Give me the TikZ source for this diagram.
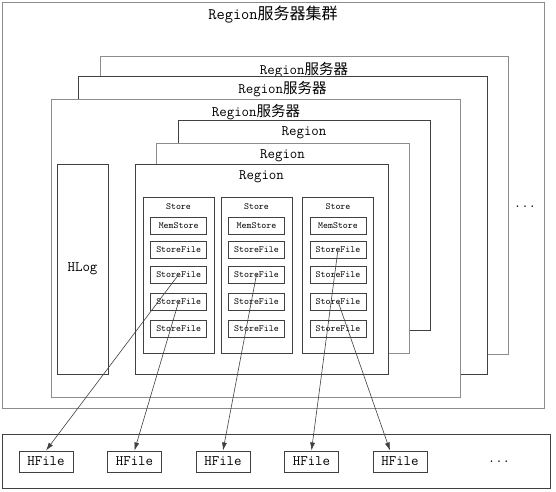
\documentclass[tikz,border=0pt]{standalone}
\usepackage{fontspec}
\newfontfamily\cjk{Noto Sans CJK SC}
\usetikzlibrary{arrows.meta}
\definecolor{grisclaro}{HTML}{8C8C8C}
\definecolor{grisosc}{HTML}{404040}
\tikzset{
  caja/.style={draw=grisosc, line width=1pt, fill=white},
  cajaclara/.style={draw=grisclaro, line width=1pt, fill=white},
  etiq/.style={font=\ttfamily\fontsize{14.5}{16}\selectfont, inner sep=0pt},
  chica/.style={font=\ttfamily\fontsize{9.5}{11}\selectfont, inner sep=0pt},
  archivo/.style={caja, chica, minimum width=56pt, minimum height=17pt},
  hfile/.style={caja, etiq, minimum width=54pt, minimum height=21pt},
  flecha/.style={draw=grisosc, line width=0.6pt, -{Latex[length=8pt,width=5pt]}}
}
\begin{document}
\begin{tikzpicture}[x=1pt,y=-1pt]
    \useasboundingbox (0,0) rectangle (556,491);

    % Cluster
    \draw[cajaclara] (2,2) rectangle (544,408);
    \node[etiq, font=\ttfamily\fontsize{16}{18}\selectfont] (titulo) at (273,15) {Region{\cjk 服务器集群}};
    \node[etiq] (puntos1) at (525,207) {...};

    % Servidores
    \draw[cajaclara] (100,56) rectangle (508,354);
    \node[etiq] (srv3) at (304,70) {Region{\cjk 服务器}};
    \draw[caja] (78,76) rectangle (487,374);
    \node[etiq] (srv2) at (282.5,89) {Region{\cjk 服务器}};
    \draw[cajaclara] (51.5,99) rectangle (460,397);
    \node[etiq] (srv1) at (256,112) {Region{\cjk 服务器}};

    % HLog
    \draw[caja] (57,164) rectangle (108.5,374);
    \node[etiq] (hlog) at (82.5,269) {HLog};

    % Regiones
    \draw[caja] (178,120) rectangle (430,330);
    \node[etiq] (reg3) at (304,133) {Region};
    \draw[cajaclara] (156,143) rectangle (409,353);
    \node[etiq] (reg2) at (282.5,156) {Region};
    \draw[caja] (135,164) rectangle (388,374);
    \node[etiq] (reg1) at (261.5,177) {Region};

    % Stores
    \draw[caja] (143,197) rectangle (214,353);
    \draw[caja] (221,197) rectangle (292,353);
    \draw[caja] (302,197) rectangle (373.5,353);
    \node[chica] (st1) at (178.5,206.5) {Store};
    \node[chica] (st2) at (256.5,206.5) {Store};
    \node[chica] (st3) at (338,206.5) {Store};

    \node[archivo] (ms1) at (178.7,225.5) {MemStore};
    \node[archivo] (sf11) at (178.7,249.5) {StoreFile};
    \node[archivo] (sf12) at (178.7,274.5) {StoreFile};
    \node[archivo] (sf13) at (178.7,301.5) {StoreFile};
    \node[archivo] (sf14) at (178.7,328.5) {StoreFile};

    \node[archivo] (ms2) at (256.5,225.5) {MemStore};
    \node[archivo] (sf21) at (256.5,249.5) {StoreFile};
    \node[archivo] (sf22) at (256.5,274.5) {StoreFile};
    \node[archivo] (sf23) at (256.5,301.5) {StoreFile};
    \node[archivo] (sf24) at (256.5,328.5) {StoreFile};

    \node[archivo] (ms3) at (338,225.5) {MemStore};
    \node[archivo] (sf31) at (338,249.5) {StoreFile};
    \node[archivo] (sf32) at (338,274.5) {StoreFile};
    \node[archivo] (sf33) at (338,301.5) {StoreFile};
    \node[archivo] (sf34) at (338,328.5) {StoreFile};

    % HDFS
    \draw[caja] (2,434) rectangle (550.5,488);
    \node[hfile] (hf1) at (46,461.5) {HFile};
    \node[hfile] (hf2) at (134.5,461.5) {HFile};
    \node[hfile] (hf3) at (223,461.5) {HFile};
    \node[hfile] (hf4) at (311.5,461.5) {HFile};
    \node[hfile] (hf5) at (400,461.5) {HFile};
    \node[etiq] (puntos2) at (499,462) {...};

    % Flechas
    \draw[flecha] (sf12.center) -- (hf1.north);
    \draw[flecha] (sf13.center) -- (hf2.north);
    \draw[flecha] (sf22.center) -- (hf3.north);
    \draw[flecha] (sf31.center) -- (hf4.north);
    \draw[flecha] (sf33.center) -- ([xshift=-10pt]hf5.north);
\end{tikzpicture}
\end{document}
